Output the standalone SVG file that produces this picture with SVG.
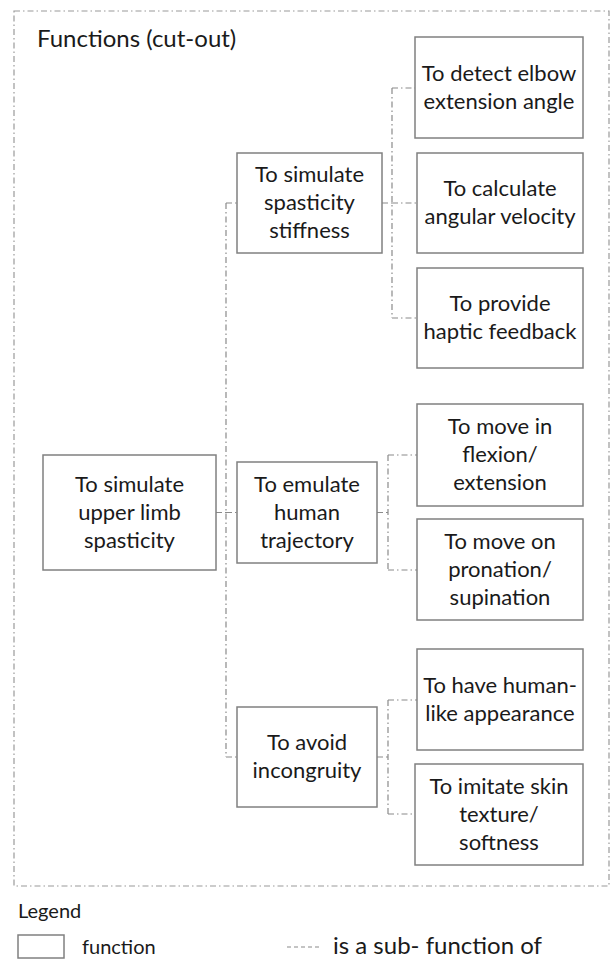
<svg xmlns="http://www.w3.org/2000/svg" width="611" height="959" viewBox="0 0 611 959">
<style>
.box{fill:#ffffff;stroke:#808080;stroke-width:1.5}
.t{font-family:Lato,"Liberation Sans",sans-serif;font-size:22px;fill:#1a1a1a;text-anchor:middle}
.tl{font-family:Lato,"Liberation Sans",sans-serif;font-size:22px;fill:#1a1a1a}
.c{fill:none;stroke:#8a8a8a;stroke-width:1.2;stroke-dasharray:6 3 1.5 3}
.frame{fill:none;stroke:#9a9a9a;stroke-width:1.2;stroke-dasharray:6 3 1.5 3}
.leg{fill:none;stroke:#8a8a8a;stroke-width:1.2;stroke-dasharray:4 3}
</style>
<rect class="frame" x="14" y="11" width="595" height="875"/>
<text class="tl" x="37" y="47" style="font-size:24px">Functions (cut-out)</text>
<g id="connectors">
<path class="c" d="M216 512.5H226M226 203V757M226 203H237M226 512.5H237M226 757H237"/>
<path class="c" d="M382 203H392M392 88V318M392 88H415M392 203H417M392 318H417"/>
<path class="c" d="M377 512.5H388M388 455V570M388 455H417M388 570H417"/>
<path class="c" d="M377 757H388M388 700V814M388 700H417M388 814H415"/>
</g>
<g id="root"><rect class="box" x="43" y="455" width="173" height="115"/>
<text class="t" x="129.5" y="491.5">To simulate</text><text class="t" x="129.5" y="519.5">upper limb</text><text class="t" x="129.5" y="547.5">spasticity</text></g>
<g id="n-stiffness"><rect class="box" x="237" y="153" width="145" height="100"/>
<text class="t" x="309.5" y="182">To simulate</text><text class="t" x="309.5" y="210">spasticity</text><text class="t" x="309.5" y="238">stiffness</text></g>
<g id="n-trajectory"><rect class="box" x="237" y="462" width="140" height="101"/>
<text class="t" x="307" y="491.5">To emulate</text><text class="t" x="307" y="519.5">human</text><text class="t" x="307" y="547.5">trajectory</text></g>
<g id="n-incongruity"><rect class="box" x="237" y="707" width="140" height="100"/>
<text class="t" x="307" y="750">To avoid</text><text class="t" x="307" y="778">incongruity</text></g>
<g id="n-elbow"><rect class="box" x="415" y="37" width="168" height="101"/>
<text class="t" x="499" y="80.5">To detect elbow</text><text class="t" x="499" y="108.5">extension angle</text></g>
<g id="n-velocity"><rect class="box" x="417" y="153" width="166" height="100"/>
<text class="t" x="500" y="196">To calculate</text><text class="t" x="500" y="224">angular velocity</text></g>
<g id="n-haptic"><rect class="box" x="417" y="268" width="166" height="100"/>
<text class="t" x="500" y="311">To provide</text><text class="t" x="500" y="339">haptic feedback</text></g>
<g id="n-flexion"><rect class="box" x="417" y="404" width="166" height="102"/>
<text class="t" x="500" y="434">To move in</text><text class="t" x="500" y="462">flexion/</text><text class="t" x="500" y="490">extension</text></g>
<g id="n-pronation"><rect class="box" x="417" y="519" width="166" height="101"/>
<text class="t" x="500" y="548.5">To move on</text><text class="t" x="500" y="576.5">pronation/</text><text class="t" x="500" y="604.5">supination</text></g>
<g id="n-appearance"><rect class="box" x="417" y="649" width="166" height="101"/>
<text class="t" x="500" y="692.5">To have human-</text><text class="t" x="500" y="720.5">like appearance</text></g>
<g id="n-skin"><rect class="box" x="415" y="764" width="168" height="101"/>
<text class="t" x="499" y="793.5">To imitate skin</text><text class="t" x="499" y="821.5">texture/</text><text class="t" x="499" y="849.5">softness</text></g>
<g id="legend">
<text class="tl" x="18" y="918" style="font-size:20px">Legend</text>
<rect class="box" x="18" y="935" width="46" height="23"/>
<text class="tl" x="82" y="954" style="font-size:20px">function</text>
<line class="leg" x1="287" y1="947" x2="322" y2="947"/>
<text class="tl" x="333" y="954" style="font-size:24px">is a sub- function of</text>
</g>
</svg>
